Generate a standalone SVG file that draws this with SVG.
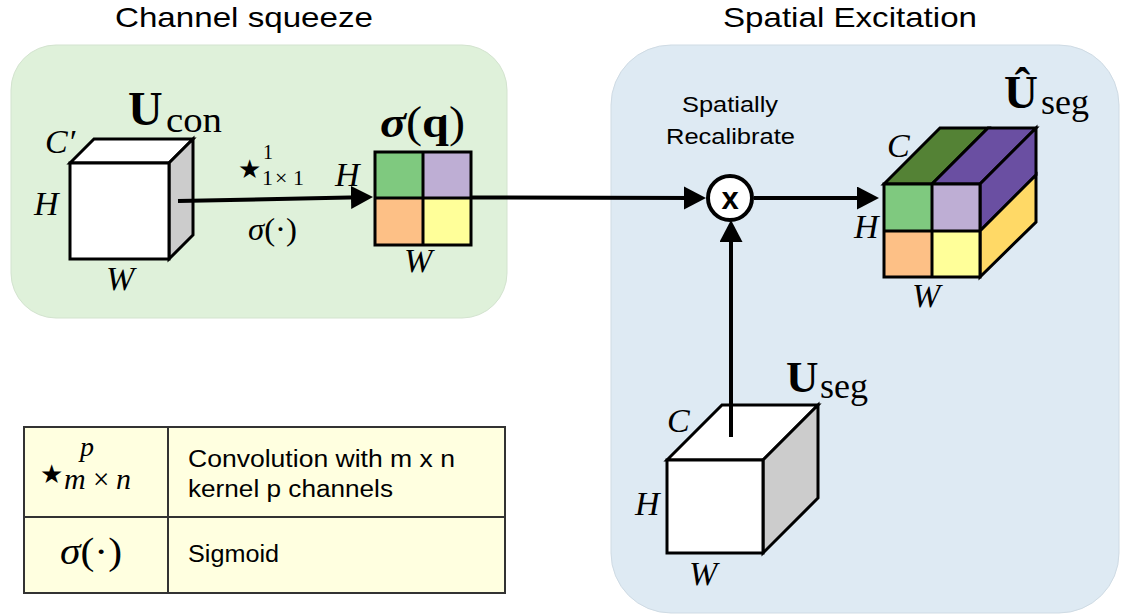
<svg xmlns="http://www.w3.org/2000/svg" width="1126" height="616" viewBox="0 0 1126 616">
<defs>
<marker id="arr" markerUnits="userSpaceOnUse" markerWidth="24" markerHeight="24" refX="10" refY="11.5" orient="auto">
<path d="M0,0 L22,11.5 L0,23 z" fill="#000"/>
</marker>
<style>
.sans{font-family:"Liberation Sans",Arial,Helvetica,sans-serif;fill:#000}
.serif{font-family:"Liberation Serif","Times New Roman","DejaVu Serif",serif;fill:#000}
.star{font-family:"DejaVu Sans",sans-serif;fill:#000}
.it{font-style:italic}
.bf{font-weight:bold}
.edge{stroke:#000;stroke-width:3;stroke-linejoin:miter}
.conn{stroke:#000;stroke-width:4;fill:none}
</style>
</defs>
<rect width="1126" height="616" fill="#fff"/>

<g id="panel-squeeze">
<rect x="11" y="45" width="496" height="273" rx="45" ry="45" fill="#dff1da" stroke="#d3e3cf" stroke-width="1"/>
<text class="sans" x="115" y="27" font-size="28" textLength="258" lengthAdjust="spacingAndGlyphs">Channel squeeze</text>
</g>

<g id="panel-excitation">
<rect x="611" y="45" width="508" height="568" rx="60" ry="60" fill="#deeaf3" stroke="#cfdbe4" stroke-width="1"/>
<text class="sans" x="723" y="27" font-size="28" textLength="254" lengthAdjust="spacingAndGlyphs">Spatial Excitation</text>
</g>

<g id="cube-ucon">
<polygon class="edge" points="70,163 94,139 193,139 169,163" fill="#fff"/>
<polygon class="edge" points="169,163 193,139 193,235 169,259" fill="#ccc"/>
<rect class="edge" x="70" y="163" width="99" height="96" fill="#fff"/>
<text class="serif" y="125"><tspan class="bf" x="128" font-size="48">U</tspan><tspan x="166" y="132" font-size="36" textLength="56" lengthAdjust="spacingAndGlyphs">con</tspan></text>
<text class="serif it" x="45" y="153" font-size="34">C′</text>
<text class="serif it" x="34" y="215" font-size="34">H</text>
<text class="serif it" x="106" y="290" font-size="34">W</text>
</g>

<g id="grid-sigma-q">
<rect x="375" y="152" width="48" height="46" fill="#7fc97f"/>
<rect x="423" y="152" width="48" height="46" fill="#beaed4"/>
<rect x="375" y="198" width="48" height="47" fill="#fdc086"/>
<rect x="423" y="198" width="48" height="47" fill="#ffff99"/>
<rect class="edge" x="375" y="152" width="96" height="93" fill="none"/>
<line class="edge" x1="423" y1="152" x2="423" y2="245"/>
<line class="edge" x1="375" y1="198" x2="471" y2="198"/>
<text class="serif" x="380" y="137" font-size="44" textLength="85" lengthAdjust="spacingAndGlyphs"><tspan class="bf it">σ</tspan>(<tspan class="bf">q</tspan>)</text>
<text class="serif it" x="335" y="186" font-size="34">H</text>
<text class="serif it" x="404" y="272" font-size="34">W</text>
</g>

<g id="multiply">
<circle cx="730" cy="198" r="22" fill="#fff" stroke="#000" stroke-width="4"/>
<text class="sans bf" x="730" y="209" font-size="31" text-anchor="middle">x</text>
<text class="sans" x="682" y="112" font-size="22" textLength="96" lengthAdjust="spacingAndGlyphs">Spatially</text>
<text class="sans" x="666" y="144" font-size="22" textLength="129" lengthAdjust="spacingAndGlyphs">Recalibrate</text>
</g>

<g id="cube-uhat-seg">
<polygon class="edge" points="884,184 940,128 988,128 932,184" fill="#548235"/>
<polygon class="edge" points="932,184 988,128 1036,128 980,184" fill="#6a4fa2"/>
<polygon class="edge" points="980,184 1036,128 1036,175 980,231" fill="#6a4fa2"/>
<polygon class="edge" points="980,231 1036,175 1036,222 980,277" fill="#ffd966"/>
<rect x="884" y="184" width="48" height="47" fill="#7fc97f"/>
<rect x="932" y="184" width="48" height="47" fill="#beaed4"/>
<rect x="884" y="231" width="48" height="46" fill="#fdc086"/>
<rect x="932" y="231" width="48" height="46" fill="#ffff99"/>
<rect class="edge" x="884" y="184" width="96" height="93" fill="none"/>
<line class="edge" x1="932" y1="184" x2="932" y2="277"/>
<line class="edge" x1="884" y1="231" x2="980" y2="231"/>
<text class="serif" y="108"><tspan class="bf" x="1004" font-size="47">Û</tspan><tspan x="1041" y="114" font-size="36" textLength="48" lengthAdjust="spacingAndGlyphs">seg</tspan></text>
<text class="serif it" x="887" y="157" font-size="34">C</text>
<text class="serif it" x="854" y="238" font-size="34">H</text>
<text class="serif it" x="912" y="307" font-size="34">W</text>
</g>

<g id="cube-useg">
<polygon class="edge" points="667,460 722,405 818,405 763,460" fill="#fff"/>
<polygon class="edge" points="763,460 818,405 818,498 763,553" fill="#ccc"/>
<rect class="edge" x="667" y="460" width="96" height="93" fill="#fff"/>
<text class="serif" y="392"><tspan class="bf" x="786" font-size="45">U</tspan><tspan x="820" y="398" font-size="36" textLength="48" lengthAdjust="spacingAndGlyphs">seg</tspan></text>
<text class="serif it" x="667" y="432" font-size="34">C</text>
<text class="serif it" x="635" y="515" font-size="34">H</text>
<text class="serif it" x="689" y="585" font-size="34">W</text>
</g>

<g id="connectors">
<line class="conn" x1="178" y1="201" x2="361" y2="197.3" marker-end="url(#arr)"/>
<line class="conn" x1="471" y1="197.5" x2="694" y2="198" marker-end="url(#arr)"/>
<line class="conn" x1="754" y1="198" x2="867" y2="198" marker-end="url(#arr)"/>
<line class="conn" x1="731" y1="437" x2="731" y2="232" marker-end="url(#arr)"/>
<text class="star" x="238" y="178" font-size="26">★</text>
<text class="serif" x="263" y="159" font-size="20">1</text>
<text class="serif" font-size="22" y="185"><tspan x="262">1</tspan><tspan x="275">×</tspan><tspan x="293">1</tspan></text>
<text class="serif" x="248" y="240" font-size="31" textLength="49" lengthAdjust="spacingAndGlyphs"><tspan class="it">σ</tspan>(·)</text>
</g>

<g id="legend">
<rect x="24" y="427" width="481" height="166" fill="#ffffe0" stroke="#333" stroke-width="2"/>
<line x1="168" y1="427" x2="168" y2="593" stroke="#333" stroke-width="2"/>
<line x1="24" y1="517" x2="505" y2="517" stroke="#333" stroke-width="2"/>
<text class="star" x="40" y="483" font-size="26">★</text>
<text class="serif it" x="80" y="456" font-size="28">p</text>
<text class="serif" font-size="30" y="489"><tspan class="it" x="64">m</tspan><tspan x="93" font-size="29">×</tspan><tspan class="it" x="116">n</tspan></text>
<text class="serif" x="60" y="564" font-size="38" textLength="62" lengthAdjust="spacingAndGlyphs"><tspan class="it">σ</tspan>(·)</text>
<text class="sans" x="188" y="467" font-size="23" textLength="267" lengthAdjust="spacingAndGlyphs">Convolution with m x n</text>
<text class="sans" x="188" y="497" font-size="23" textLength="205" lengthAdjust="spacingAndGlyphs">kernel p channels</text>
<text class="sans" x="188" y="562" font-size="23" textLength="91" lengthAdjust="spacingAndGlyphs">Sigmoid</text>
</g>
</svg>
